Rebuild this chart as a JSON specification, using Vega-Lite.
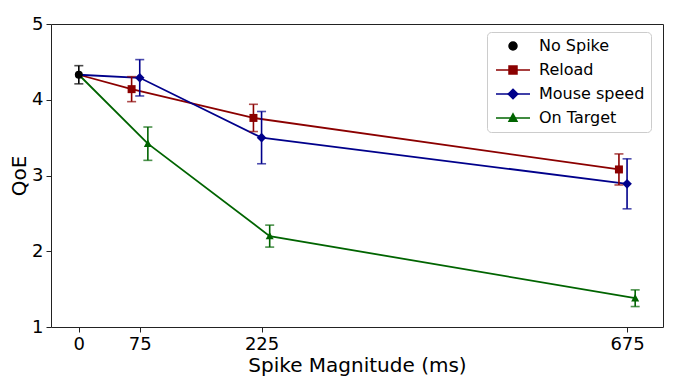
{
  "$schema": "https://vega.github.io/schema/vega-lite/v6.json",
  "width": 612,
  "height": 303,
  "autosize": {"type": "none"},
  "padding": {"left": 51, "top": 24, "right": 11, "bottom": 60},
  "background": "white",
  "config": {
    "font": "DejaVu Sans",
    "view": {"stroke": "#222222", "strokeWidth": 1},
    "axis": {
      "labelFont": "DejaVu Sans",
      "titleFont": "DejaVu Sans",
      "labelFontSize": 18,
      "titleFontSize": 20,
      "titleFontWeight": "normal",
      "labelColor": "black",
      "titleColor": "black",
      "tickColor": "#222222",
      "domain": false,
      "grid": false,
      "tickSize": 5,
      "labelPadding": 3
    }
  },
  "data": {
    "values": [
      {"series": "No Spike", "x": 0, "qoe": 4.33, "err": 0.12, "marker": true},
      {"series": "Reload", "x": 0, "qoe": 4.33, "err": 0, "marker": false},
      {"series": "Reload", "x": 65, "qoe": 4.14, "err": 0.165, "marker": true},
      {"series": "Reload", "x": 215, "qoe": 3.76, "err": 0.18, "marker": true},
      {"series": "Reload", "x": 665, "qoe": 3.08, "err": 0.205, "marker": true},
      {"series": "Mouse speed", "x": 0, "qoe": 4.33, "err": 0, "marker": false},
      {"series": "Mouse speed", "x": 75, "qoe": 4.29, "err": 0.24, "marker": true},
      {"series": "Mouse speed", "x": 225, "qoe": 3.5, "err": 0.345, "marker": true},
      {"series": "Mouse speed", "x": 675, "qoe": 2.89, "err": 0.33, "marker": true},
      {"series": "On Target", "x": 0, "qoe": 4.33, "err": 0, "marker": false},
      {"series": "On Target", "x": 85, "qoe": 3.42, "err": 0.22, "marker": true},
      {"series": "On Target", "x": 235, "qoe": 2.2, "err": 0.145, "marker": true},
      {"series": "On Target", "x": 685, "qoe": 1.38, "err": 0.11, "marker": true}
    ]
  },
  "encoding": {
    "x": {
      "field": "x",
      "type": "quantitative",
      "scale": {"domain": [-34.25, 719.25], "nice": false, "zero": false},
      "axis": {"values": [0, 75, 225, 675], "title": "Spike Magnitude (ms)", "titlePadding": 2}
    },
    "y": {
      "field": "qoe",
      "type": "quantitative",
      "scale": {"domain": [1, 5], "nice": false, "zero": false},
      "axis": {"values": [1, 2, 3, 4, 5], "title": "QoE", "titlePadding": 2}
    }
  },
  "layer": [
    {
      "transform": [{"filter": "datum.series !== 'No Spike'"}],
      "mark": {"type": "line", "strokeWidth": 1.8},
      "encoding": {
        "order": {"field": "x", "type": "quantitative"},
        "stroke": {
          "field": "series",
          "type": "nominal",
          "scale": {
            "domain": ["Reload", "Mouse speed", "On Target"],
            "range": ["#8b0000", "#00008b", "#006400"]
          },
          "legend": {
            "title": null,
            "orient": "none",
            "legendX": 436,
            "legendY": 32,
            "labelFont": "DejaVu Sans",
            "labelFontSize": 16,
            "labelOpacity": 0,
            "symbolType": "M-4.25,0H4.25",
            "symbolSize": 64,
            "symbolStrokeWidth": 1.5,
            "symbolOpacity": 1,
            "padding": 6,
            "rowPadding": 8,
            "symbolOffset": 12,
            "labelOffset": 18
          }
        }
      }
    },
    {
      "encoding": {
        "color": {
          "field": "series",
          "type": "nominal",
          "scale": {
            "domain": ["No Spike", "Reload", "Mouse speed", "On Target"],
            "range": ["#000000", "#8b0000", "#00008b", "#006400"]
          },
          "legend": {
            "title": null,
            "orient": "none",
            "legendX": 436,
            "legendY": 8,
            "labelFont": "DejaVu Sans",
            "labelFontSize": 16,
            "labelColor": "black",
            "symbolSize": 64,
            "symbolStrokeWidth": 1.5,
            "symbolOpacity": 1,
            "padding": 6,
            "rowPadding": 8,
            "symbolOffset": 12,
            "labelOffset": 18,
            "strokeColor": "#cccccc",
            "cornerRadius": 4
          }
        }
      },
      "layer": [
        {
          "transform": [{"filter": "datum.marker"}],
          "mark": {
            "type": "errorbar",
            "ticks": {"size": 9, "thickness": 1.6},
            "rule": {"strokeWidth": 1.6}
          },
          "encoding": {
            "y": {"field": "qoe", "type": "quantitative"},
            "yError": {"field": "err"}
          }
        },
        {
          "transform": [{"filter": "datum.marker"}],
          "mark": {"type": "point", "filled": true, "opacity": 1, "size": 64},
          "encoding": {
            "shape": {
              "field": "series",
              "type": "nominal",
              "scale": {
                "domain": ["No Spike", "Reload", "Mouse speed", "On Target"],
                "range": ["circle", "M-1,-1H1V1H-1Z", "M0,-1.2L1.2,0L0,1.2L-1.2,0Z", "M0,-1.05L1,0.8H-1Z"]
              },
              "legend": null
            }
          }
        }
      ]
    }
  ]
}
